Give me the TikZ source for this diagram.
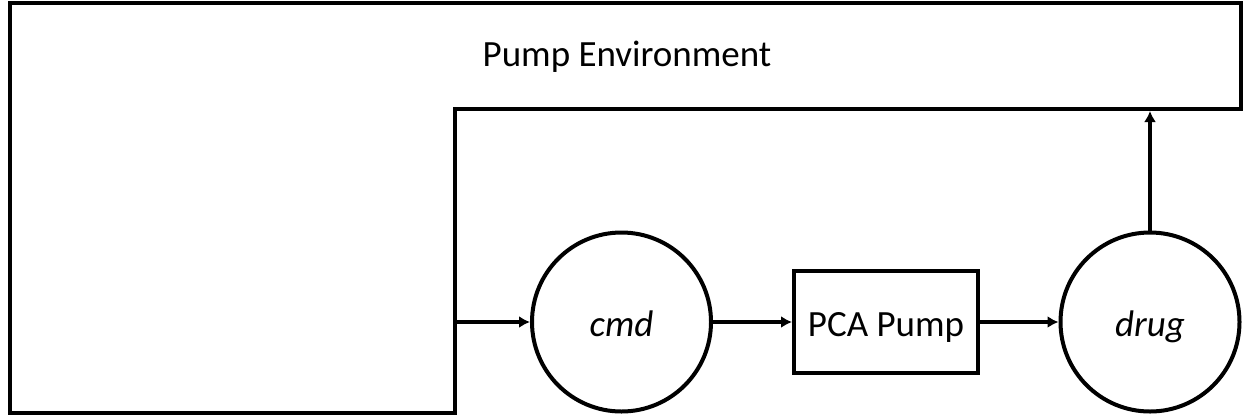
\documentclass[tikz,border=0pt]{standalone}
\usepackage{fontspec}
\setmainfont{Carlito}
\usetikzlibrary{arrows.meta}

\begin{document}
\begin{tikzpicture}[x=0.5pt, y=-0.5pt,
    varnode/.style={draw, line width=2pt, circle, minimum size=89.5pt,
                    inner sep=0pt, text height=14pt, text depth=0pt,
                    font=\fontsize{18.5pt}{22pt}\selectfont\itshape},
    pumpbox/.style={draw, line width=2pt, minimum width=92pt,
                    minimum height=51pt, inner sep=0pt, text height=14pt, text depth=0pt,
                    font=\fontsize{18.5pt}{22pt}\selectfont},
    envlabel/.style={font=\fontsize{18.5pt}{22pt}\selectfont, anchor=base},
    arr/.style={-{Latex[length=5.5pt, width=6pt]}, line width=2pt}
]
    \useasboundingbox (0,0) rectangle (1247,419);

    % environment outline
    \draw[line width=2pt, line join=miter] (10,2.5) -- (1241,2.5) -- (1241,109)
        -- (455,109) -- (455,412.5) -- (10,412.5) -- cycle;
    \node[envlabel] (env) at (627,66) {Pump Environment};
    \coordinate (envin)  at (455,322);
    \coordinate (envout) at (1150,111);

    \node[varnode] (cmd)  at (621.5,322) {cmd};
    \node[pumpbox] (pump) at (886,322)   {PCA Pump};
    \node[varnode] (drug) at (1150,322)  {drug};

    \draw[arr] (envin) -- (cmd);
    \draw[arr] (cmd)   -- (pump);
    \draw[arr] (pump)  -- (drug);
    \draw[arr] (drug)  -- (envout);
\end{tikzpicture}
\end{document}
